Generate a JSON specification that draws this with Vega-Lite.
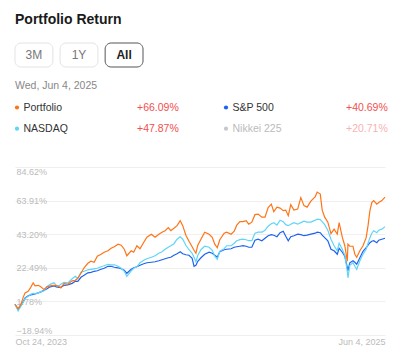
{
  "$schema": "https://vega.github.io/schema/vega-lite/v6.json",
  "padding": {"left": 12, "top": 12, "right": 20, "bottom": 5},
  "background": "white",
  "config": {"view": {"stroke": null}, "font": "Liberation Sans", "concat": {"spacing": 12}},
  "title": {"text": "Portfolio Return", "anchor": "start", "fontSize": 14, "fontWeight": "bold", "color": "#1a1a1a", "offset": 16, "frame": "group"},
  "vconcat": [
    {
      "width": 128,
      "height": 24,
      "data": {"values": [{"label": "3M", "on": false}, {"label": "1Y", "on": false}, {"label": "All", "on": true}]},
      "encoding": {
        "x": {"field": "label", "type": "nominal", "scale": {"domain": ["3M", "1Y", "All"], "paddingInner": 0.16, "paddingOuter": 0}, "axis": null}
      },
      "layer": [
        {
          "mark": {"type": "rect", "cornerRadius": 6, "fill": "white", "strokeWidth": 1},
          "encoding": {"stroke": {"condition": {"test": "datum.on", "value": "#555555"}, "value": "#e3e3e3"}}
        },
        {
          "transform": [{"filter": "!datum.on"}],
          "mark": {"type": "text", "fontSize": 12, "color": "#777777"},
          "encoding": {"text": {"field": "label"}}
        },
        {
          "transform": [{"filter": "datum.on"}],
          "mark": {"type": "text", "fontSize": 12, "fontWeight": "bold", "color": "#222222"},
          "encoding": {"text": {"field": "label"}}
        }
      ]
    },
    {
      "width": 209,
      "height": 56,
      "title": {"text": "Wed, Jun 4, 2025", "anchor": "start", "fontSize": 10.5, "fontWeight": "normal", "color": "#888888", "offset": 8, "frame": "group"},
      "data": {"values": [
        {"name": "Portfolio", "ret": 0.6609, "row": 0, "col": 0, "on": true},
        {"name": "S&P 500", "ret": 0.4069, "row": 0, "col": 1, "on": true},
        {"name": "NASDAQ", "ret": 0.4787, "row": 1, "col": 0, "on": true},
        {"name": "Nikkei 225", "ret": 0.2071, "row": 1, "col": 1, "on": false}
      ]},
      "encoding": {
        "x": {"field": "col", "type": "ordinal", "scale": {"type": "point", "range": [2, 211], "padding": 0}, "axis": null},
        "y": {"field": "row", "type": "ordinal", "scale": {"type": "point", "range": [8.5, 29.7], "padding": 0}, "axis": null}
      },
      "layer": [
        {
          "mark": {"type": "point", "filled": true, "size": 18, "opacity": 1},
          "encoding": {"color": {"field": "name", "type": "nominal", "scale": {"domain": ["Portfolio", "S&P 500", "NASDAQ", "Nikkei 225"], "range": ["#ff7417", "#1e62f0", "#5fd6f7", "#c8c8c8"]}, "legend": null}}
        },
        {
          "mark": {"type": "text", "align": "left", "dx": 6.5, "fontSize": 10.5},
          "encoding": {"text": {"field": "name"}, "color": {"condition": {"test": "datum.on", "value": "#333333"}, "value": "#bbbbbb"}}
        },
        {
          "mark": {"type": "text", "align": "left", "dx": 120, "fontSize": 10.5},
          "encoding": {"text": {"field": "ret", "type": "quantitative", "format": "+.2%"}, "color": {"condition": {"test": "datum.on", "value": "#f24e4e"}, "value": "#f7b3b3"}}
        }
      ]
    },
    {
      "width": 370,
      "height": 168,
      "data": {"values": [
{"d":"2023-10-24","Portfolio":0,"S&P 500":0,"NASDAQ":0},
{"d":"2023-10-29","Portfolio":-2.86,"S&P 500":-3.17,"NASDAQ":-4.09},
{"d":"2023-11-03","Portfolio":0.54,"S&P 500":-0.38,"NASDAQ":-0.69},
{"d":"2023-11-06","Portfolio":4.25,"S&P 500":1.47,"NASDAQ":1.16},
{"d":"2023-11-09","Portfolio":7.03,"S&P 500":3.94,"NASDAQ":3.63},
{"d":"2023-11-14","Portfolio":7.96,"S&P 500":5.18,"NASDAQ":4.87},
{"d":"2023-11-18","Portfolio":10.43,"S&P 500":5.80,"NASDAQ":6.11},
{"d":"2023-11-22","Portfolio":13.22,"S&P 500":6.11,"NASDAQ":6.73},
{"d":"2023-11-25","Portfolio":11.36,"S&P 500":6.42,"NASDAQ":6.42},
{"d":"2023-11-30","Portfolio":11.67,"S&P 500":7.03,"NASDAQ":7.03},
{"d":"2023-12-04","Portfolio":10.74,"S&P 500":7.65,"NASDAQ":7.65},
{"d":"2023-12-09","Portfolio":9.20,"S&P 500":8.58,"NASDAQ":8.27},
{"d":"2023-12-14","Portfolio":10.74,"S&P 500":9.51,"NASDAQ":11.05},
{"d":"2023-12-19","Portfolio":11.36,"S&P 500":10.74,"NASDAQ":12.29},
{"d":"2023-12-25","Portfolio":11.67,"S&P 500":11.36,"NASDAQ":13.22},
{"d":"2023-12-31","Portfolio":11.36,"S&P 500":10.43,"NASDAQ":10.74},
{"d":"2024-01-05","Portfolio":10.13,"S&P 500":10.43,"NASDAQ":12.29},
{"d":"2024-01-10","Portfolio":12.91,"S&P 500":11.67,"NASDAQ":13.53},
{"d":"2024-01-16","Portfolio":12.29,"S&P 500":11.98,"NASDAQ":13.22},
{"d":"2024-01-23","Portfolio":14.45,"S&P 500":12.91,"NASDAQ":15.69},
{"d":"2024-01-28","Portfolio":14.76,"S&P 500":14.14,"NASDAQ":17.24},
{"d":"2024-02-01","Portfolio":16.00,"S&P 500":14.14,"NASDAQ":16.00},
{"d":"2024-02-06","Portfolio":19.09,"S&P 500":16.62,"NASDAQ":19.71},
{"d":"2024-02-11","Portfolio":22.49,"S&P 500":17.85,"NASDAQ":20.33},
{"d":"2024-02-17","Portfolio":25.27,"S&P 500":19.40,"NASDAQ":21.25},
{"d":"2024-02-22","Portfolio":26.51,"S&P 500":19.71,"NASDAQ":21.56},
{"d":"2024-02-27","Portfolio":25.89,"S&P 500":20.33,"NASDAQ":21.87},
{"d":"2024-03-03","Portfolio":29.60,"S&P 500":20.64,"NASDAQ":22.18},
{"d":"2024-03-09","Portfolio":30.84,"S&P 500":21.56,"NASDAQ":23.11},
{"d":"2024-03-14","Portfolio":32.07,"S&P 500":22.18,"NASDAQ":23.73},
{"d":"2024-03-20","Portfolio":33.00,"S&P 500":23.42,"NASDAQ":24.65},
{"d":"2024-03-25","Portfolio":34.54,"S&P 500":23.42,"NASDAQ":24.34},
{"d":"2024-03-30","Portfolio":35.47,"S&P 500":22.80,"NASDAQ":24.34},
{"d":"2024-04-05","Portfolio":37.02,"S&P 500":22.49,"NASDAQ":23.42},
{"d":"2024-04-10","Portfolio":36.40,"S&P 500":21.87,"NASDAQ":22.18},
{"d":"2024-04-15","Portfolio":33.93,"S&P 500":20.94,"NASDAQ":20.33},
{"d":"2024-04-19","Portfolio":29.91,"S&P 500":19.09,"NASDAQ":17.24},
{"d":"2024-04-26","Portfolio":33.00,"S&P 500":21.56,"NASDAQ":20.64},
{"d":"2024-04-30","Portfolio":32.07,"S&P 500":22.49,"NASDAQ":22.18},
{"d":"2024-05-05","Portfolio":36.09,"S&P 500":23.11,"NASDAQ":23.11},
{"d":"2024-05-10","Portfolio":34.24,"S&P 500":24.04,"NASDAQ":25.58},
{"d":"2024-05-16","Portfolio":38.25,"S&P 500":24.96,"NASDAQ":27.13},
{"d":"2024-05-21","Portfolio":41.34,"S&P 500":25.58,"NASDAQ":28.05},
{"d":"2024-05-28","Portfolio":43.20,"S&P 500":25.89,"NASDAQ":28.98},
{"d":"2024-06-03","Portfolio":41.34,"S&P 500":26.20,"NASDAQ":29.91},
{"d":"2024-06-09","Portfolio":43.20,"S&P 500":26.82,"NASDAQ":31.45},
{"d":"2024-06-14","Portfolio":44.44,"S&P 500":27.44,"NASDAQ":32.38},
{"d":"2024-06-19","Portfolio":45.36,"S&P 500":28.05,"NASDAQ":33.93},
{"d":"2024-06-24","Portfolio":47.22,"S&P 500":28.67,"NASDAQ":35.16},
{"d":"2024-06-28","Portfolio":45.36,"S&P 500":28.98,"NASDAQ":36.09},
{"d":"2024-07-03","Portfolio":46.91,"S&P 500":30.22,"NASDAQ":37.33},
{"d":"2024-07-08","Portfolio":48.45,"S&P 500":31.14,"NASDAQ":40.11},
{"d":"2024-07-13","Portfolio":51.55,"S&P 500":32.38,"NASDAQ":41.65},
{"d":"2024-07-17","Portfolio":48.45,"S&P 500":31.14,"NASDAQ":40.11},
{"d":"2024-07-22","Portfolio":42.58,"S&P 500":30.53,"NASDAQ":36.40},
{"d":"2024-07-27","Portfolio":38.87,"S&P 500":30.22,"NASDAQ":33.62},
{"d":"2024-08-01","Portfolio":35.47,"S&P 500":28.36,"NASDAQ":31.45},
{"d":"2024-08-04","Portfolio":33.31,"S&P 500":23.42,"NASDAQ":28.98},
{"d":"2024-08-07","Portfolio":31.45,"S&P 500":24.04,"NASDAQ":26.20},
{"d":"2024-08-10","Portfolio":36.40,"S&P 500":26.51,"NASDAQ":30.22},
{"d":"2024-08-15","Portfolio":40.11,"S&P 500":28.67,"NASDAQ":33.62},
{"d":"2024-08-21","Portfolio":44.44,"S&P 500":30.84,"NASDAQ":35.78},
{"d":"2024-08-28","Portfolio":43.20,"S&P 500":32.07,"NASDAQ":35.16},
{"d":"2024-09-02","Portfolio":41.34,"S&P 500":31.45,"NASDAQ":33.31},
{"d":"2024-09-06","Portfolio":37.02,"S&P 500":30.22,"NASDAQ":29.60},
{"d":"2024-09-10","Portfolio":34.85,"S&P 500":28.98,"NASDAQ":27.74},
{"d":"2024-09-14","Portfolio":39.80,"S&P 500":32.38,"NASDAQ":32.69},
{"d":"2024-09-21","Portfolio":43.82,"S&P 500":33.62,"NASDAQ":34.24},
{"d":"2024-09-25","Portfolio":44.44,"S&P 500":33.93,"NASDAQ":36.09},
{"d":"2024-10-02","Portfolio":43.20,"S&P 500":34.24,"NASDAQ":36.09},
{"d":"2024-10-07","Portfolio":45.05,"S&P 500":35.16,"NASDAQ":37.64},
{"d":"2024-10-11","Portfolio":48.76,"S&P 500":35.47,"NASDAQ":39.18},
{"d":"2024-10-16","Portfolio":50.93,"S&P 500":35.78,"NASDAQ":39.80},
{"d":"2024-10-21","Portfolio":50.93,"S&P 500":36.09,"NASDAQ":40.11},
{"d":"2024-10-26","Portfolio":51.55,"S&P 500":35.78,"NASDAQ":39.80},
{"d":"2024-10-30","Portfolio":49.38,"S&P 500":35.16,"NASDAQ":39.18},
{"d":"2024-11-04","Portfolio":50.62,"S&P 500":35.16,"NASDAQ":39.18},
{"d":"2024-11-09","Portfolio":55.25,"S&P 500":39.49,"NASDAQ":43.82},
{"d":"2024-11-14","Portfolio":55.56,"S&P 500":40.11,"NASDAQ":44.44},
{"d":"2024-11-20","Portfolio":53.71,"S&P 500":39.18,"NASDAQ":44.44},
{"d":"2024-11-25","Portfolio":53.71,"S&P 500":40.73,"NASDAQ":45.67},
{"d":"2024-11-30","Portfolio":59.58,"S&P 500":42.27,"NASDAQ":48.15},
{"d":"2024-12-05","Portfolio":61.75,"S&P 500":42.89,"NASDAQ":49.69},
{"d":"2024-12-09","Portfolio":57.11,"S&P 500":42.58,"NASDAQ":50.31},
{"d":"2024-12-14","Portfolio":59.89,"S&P 500":41.65,"NASDAQ":48.76},
{"d":"2024-12-19","Portfolio":59.27,"S&P 500":44.13,"NASDAQ":51.85},
{"d":"2024-12-24","Portfolio":57.73,"S&P 500":45.05,"NASDAQ":50.93},
{"d":"2024-12-28","Portfolio":58.04,"S&P 500":41.96,"NASDAQ":49.07},
{"d":"2025-01-01","Portfolio":54.64,"S&P 500":39.18,"NASDAQ":48.45},
{"d":"2025-01-05","Portfolio":61.44,"S&P 500":41.65,"NASDAQ":49.38},
{"d":"2025-01-10","Portfolio":58.04,"S&P 500":42.27,"NASDAQ":50.31},
{"d":"2025-01-16","Portfolio":58.65,"S&P 500":43.20,"NASDAQ":49.38},
{"d":"2025-01-21","Portfolio":65.76,"S&P 500":42.89,"NASDAQ":50.31},
{"d":"2025-01-26","Portfolio":60.82,"S&P 500":42.27,"NASDAQ":51.24},
{"d":"2025-01-31","Portfolio":59.89,"S&P 500":42.58,"NASDAQ":50.62},
{"d":"2025-02-06","Portfolio":63.60,"S&P 500":43.20,"NASDAQ":50.62},
{"d":"2025-02-13","Portfolio":66.38,"S&P 500":43.82,"NASDAQ":51.85},
{"d":"2025-02-16","Portfolio":69.16,"S&P 500":44.44,"NASDAQ":52.47},
{"d":"2025-02-21","Portfolio":67.93,"S&P 500":44.13,"NASDAQ":52.16},
{"d":"2025-02-24","Portfolio":58.04,"S&P 500":42.58,"NASDAQ":50.93},
{"d":"2025-02-28","Portfolio":53.71,"S&P 500":41.04,"NASDAQ":49.07},
{"d":"2025-03-05","Portfolio":50.62,"S&P 500":39.18,"NASDAQ":45.67},
{"d":"2025-03-10","Portfolio":43.51,"S&P 500":33.93,"NASDAQ":40.11},
{"d":"2025-03-15","Portfolio":46.29,"S&P 500":33.00,"NASDAQ":36.09},
{"d":"2025-03-20","Portfolio":43.20,"S&P 500":30.84,"NASDAQ":33.00},
{"d":"2025-03-23","Portfolio":50.31,"S&P 500":34.54,"NASDAQ":37.64},
{"d":"2025-03-28","Portfolio":41.34,"S&P 500":32.07,"NASDAQ":33.93},
{"d":"2025-04-01","Portfolio":36.09,"S&P 500":29.60,"NASDAQ":30.22},
{"d":"2025-04-05","Portfolio":26.51,"S&P 500":22.80,"NASDAQ":20.33},
{"d":"2025-04-06","Portfolio":37.02,"S&P 500":20.64,"NASDAQ":16.31},
{"d":"2025-04-09","Portfolio":35.78,"S&P 500":25.58,"NASDAQ":24.04},
{"d":"2025-04-14","Portfolio":35.78,"S&P 500":26.82,"NASDAQ":25.58},
{"d":"2025-04-17","Portfolio":30.84,"S&P 500":25.89,"NASDAQ":23.42},
{"d":"2025-04-20","Portfolio":28.98,"S&P 500":24.65,"NASDAQ":21.56},
{"d":"2025-04-25","Portfolio":33.00,"S&P 500":28.67,"NASDAQ":26.82},
{"d":"2025-04-30","Portfolio":36.09,"S&P 500":32.69,"NASDAQ":30.84},
{"d":"2025-05-05","Portfolio":41.04,"S&P 500":34.85,"NASDAQ":33.93},
{"d":"2025-05-08","Portfolio":48.45,"S&P 500":36.40,"NASDAQ":37.64},
{"d":"2025-05-11","Portfolio":57.73,"S&P 500":37.94,"NASDAQ":41.04},
{"d":"2025-05-14","Portfolio":62.67,"S&P 500":38.87,"NASDAQ":43.82},
{"d":"2025-05-17","Portfolio":63.91,"S&P 500":39.18,"NASDAQ":45.36},
{"d":"2025-05-22","Portfolio":61.75,"S&P 500":37.94,"NASDAQ":44.13},
{"d":"2025-05-25","Portfolio":62.67,"S&P 500":39.49,"NASDAQ":45.67},
{"d":"2025-05-30","Portfolio":63.91,"S&P 500":40.11,"NASDAQ":46.29},
{"d":"2025-06-04","Portfolio":66.09,"S&P 500":40.69,"NASDAQ":47.87}
      ]},
      "transform": [{"fold": ["S&P 500", "NASDAQ", "Portfolio"], "as": ["series", "v"]}],
      "mark": {"type": "line", "strokeWidth": 1.2},
      "encoding": {
        "x": {
          "field": "d", "type": "temporal",
          "scale": {"type": "utc", "domain": [{"year": 2023, "month": 10, "date": 24, "utc": true}, {"year": 2025, "month": 6, "date": 4, "utc": true}]},
          "axis": {"values": [{"year": 2023, "month": 10, "date": 24, "utc": true}, {"year": 2025, "month": 6, "date": 4, "utc": true}], "format": "%b %-d, %Y", "labelFlush": true, "domain": false, "ticks": false, "tickSize": 0, "grid": false, "labelColor": "#bbbbbb", "labelFontSize": 9, "labelPadding": 2, "title": null}
        },
        "y": {
          "field": "v", "type": "quantitative",
          "scale": {"domain": [-18.94, 84.62], "nice": false, "zero": false},
          "axis": {"values": [-18.94, 1.78, 22.49, 43.20, 63.91, 84.62], "labelExpr": "format(datum.value, '.2f') + '%'", "labelAlign": "left", "labelPadding": -1, "labelFlush": true, "domain": false, "ticks": false, "tickSize": 0, "minExtent": 0, "gridColor": "#efefef", "labelColor": "#bbbbbb", "labelFontSize": 9, "title": null}
        },
        "color": {"field": "series", "type": "nominal", "scale": {"domain": ["Portfolio", "S&P 500", "NASDAQ", "Nikkei 225"], "range": ["#ff7417", "#1e62f0", "#5fd6f7", "#c8c8c8"]}, "legend": null}
      }
    }
  ]
}
